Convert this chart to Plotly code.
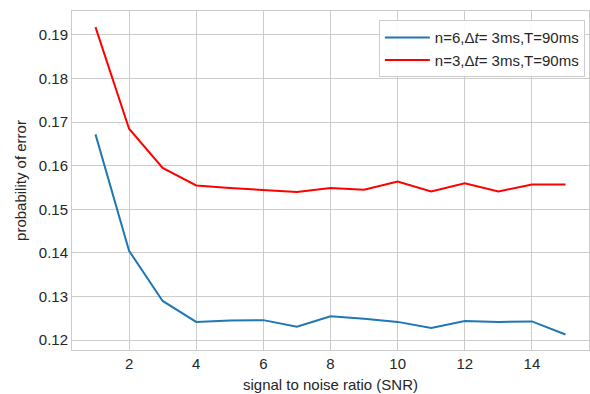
import plotly.graph_objects as go

snr = list(range(1, 16))
err_n6 = [0.1672, 0.1405, 0.1290, 0.1242, 0.1245, 0.1246, 0.1231, 0.1255,
          0.1249, 0.1242, 0.1228, 0.1244, 0.1242, 0.1243, 0.1213]
err_n3 = [0.1918, 0.1685, 0.1595, 0.1555, 0.1549, 0.1545, 0.1540, 0.1549,
          0.1545, 0.1564, 0.1541, 0.1560, 0.1541, 0.1557, 0.1557]
label_n6 = "n=6,Δ<i>t</i>= 3ms,T=90ms"
label_n3 = "n=3,Δ<i>t</i>= 3ms,T=90ms"
x_ticks = [2, 4, 6, 8, 10, 12, 14]
y_ticks = [0.12, 0.13, 0.14, 0.15, 0.16, 0.17, 0.18, 0.19]

fig = go.Figure()
fig.add_trace(go.Scatter(x=snr, y=err_n6, mode="lines", name=label_n6,
                         line=dict(color="#1f77b4", width=2)))
fig.add_trace(go.Scatter(x=snr, y=err_n3, mode="lines", name=label_n3,
                         line=dict(color="#ff0000", width=2)))

axis_common = dict(showgrid=True, gridcolor="#cccccc", gridwidth=1,
                   showline=True, linecolor="#cccccc", linewidth=1, mirror=True,
                   zeroline=False, ticks="", tickfont=dict(size=15, color="#262626"))

fig.update_layout(
    width=590, height=394,
    margin=dict(l=72, r=1, t=11, b=44),
    paper_bgcolor="white", plot_bgcolor="white",
    font=dict(family="Liberation Sans, Arial, sans-serif", size=15, color="#262626"),
    xaxis=dict(range=[0.3, 15.7], tickvals=x_ticks,
               title=dict(text="signal to noise ratio (SNR)", font=dict(size=15), standoff=8),
               **axis_common),
    yaxis=dict(range=[0.11775, 0.1955], tickvals=y_ticks, tickformat=".2f",
               title=dict(text="probability of error", font=dict(size=15), standoff=8),
               **axis_common),
    legend=dict(x=0.992, y=0.973, xanchor="right", yanchor="top",
                bgcolor="rgba(255,255,255,0.9)", bordercolor="#cccccc", borderwidth=1,
                itemwidth=45, font=dict(size=15, color="#262626")),
    showlegend=True,
)

fig.write_html("out.html")
